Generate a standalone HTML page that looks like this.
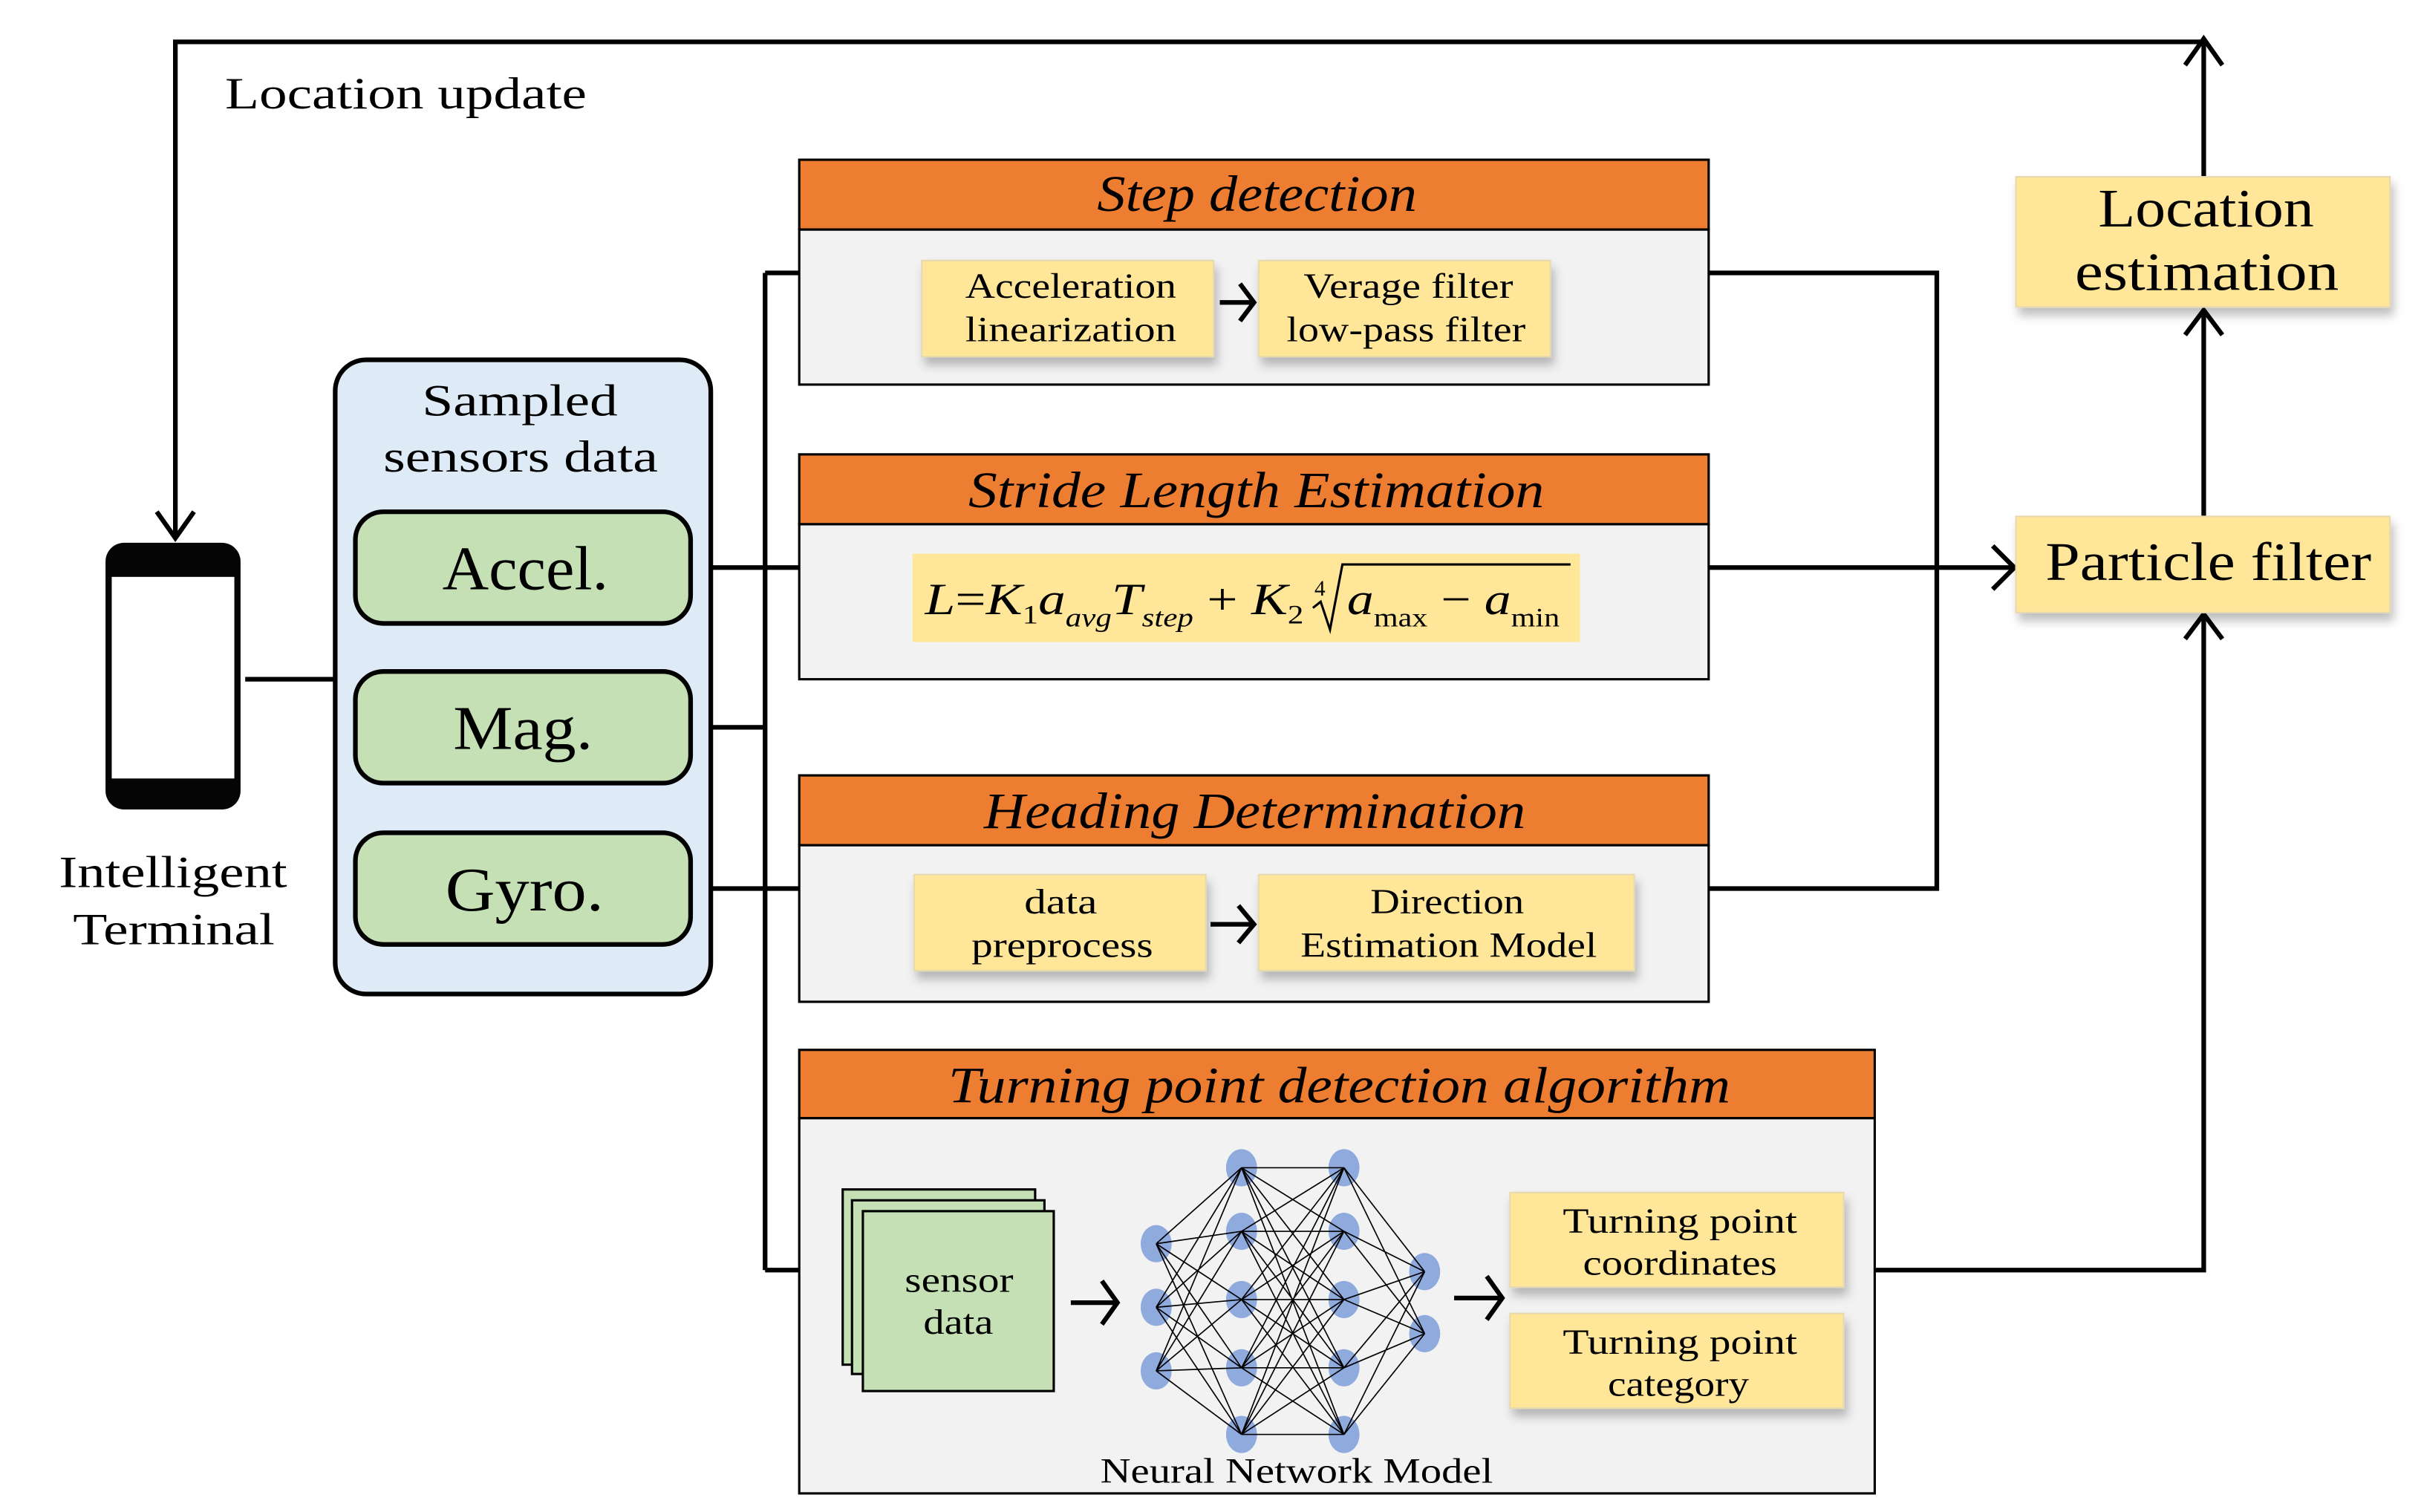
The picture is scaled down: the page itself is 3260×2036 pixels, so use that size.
<!DOCTYPE html>
<html><head><meta charset="utf-8"><style>
html,body{margin:0;padding:0;background:#fff;}
svg{display:block;}
text{font-family:"Liberation Serif",serif;fill:#000;}
</style></head><body>
<svg width="3260" height="2036" viewBox="0 0 1560 975" preserveAspectRatio="none" xmlns="http://www.w3.org/2000/svg">
<defs>
<filter id="sh" x="-10%" y="-10%" width="125%" height="140%"><feDropShadow dx="2" dy="5" stdDeviation="3" flood-color="#000" flood-opacity="0.25"/></filter>
</defs>
<g fill="none" stroke="#000" stroke-width="3">
<path d="M113 345 V27 H1420 V114"/>
<path d="M101 330 L113 347 L125 330"/>
<path d="M1408 42 L1420 25 L1432 42"/>
<path d="M158 438 H215"/>
<path d="M458 366 H515 M458 469 H493 M458 573 H515 M493 176 V819 M493 176 H515 M493 819 H515"/>
<path d="M1101 176 H1248 V573 H1101"/>
<path d="M1101 366 H1296"/>
<path d="M1284 352 L1298 366 L1284 380"/>
<path d="M1208 819 H1420 V397"/>
<path d="M1408 412 L1420 396 L1432 412"/>
<path d="M1420 333 V200"/>
<path d="M1408 216 L1420 200 L1432 216"/>
</g>
<!-- phone -->
<rect x="68" y="350" width="87" height="172" rx="12" fill="#050505"/>
<rect x="72" y="372" width="79" height="130" fill="#fff"/>
<text x="38" y="572" font-size="29" textLength="147" lengthAdjust="spacingAndGlyphs">Intelligent</text>
<text x="47" y="609" font-size="29" textLength="130" lengthAdjust="spacingAndGlyphs">Terminal</text>
<text x="145" y="70" font-size="29" textLength="233" lengthAdjust="spacingAndGlyphs">Location update</text>
<!-- sensors -->
<rect x="216" y="232" width="242" height="409" rx="20" fill="#deebf7" stroke="#000" stroke-width="3"/>
<text x="272" y="268" font-size="29" textLength="126" lengthAdjust="spacingAndGlyphs">Sampled</text>
<text x="247" y="304" font-size="29" textLength="177" lengthAdjust="spacingAndGlyphs">sensors data</text>
<g fill="#c5e0b4" stroke="#000" stroke-width="3">
<rect x="229" y="330" width="216" height="72" rx="18"/>
<rect x="229" y="433" width="216" height="72" rx="18"/>
<rect x="229" y="537" width="216" height="72" rx="18"/>
</g>
<text x="285" y="380" font-size="40" textLength="107" lengthAdjust="spacingAndGlyphs">Accel.</text>
<text x="292" y="483" font-size="40" textLength="90" lengthAdjust="spacingAndGlyphs">Mag.</text>
<text x="287" y="587" font-size="40" textLength="102" lengthAdjust="spacingAndGlyphs">Gyro.</text>
<!-- panels -->
<g stroke="#000" stroke-width="1.5">
<rect x="515" y="148" width="586" height="100" fill="#f2f2f2"/>
<rect x="515" y="103" width="586" height="45" fill="#ed7d31"/>
<rect x="515" y="338" width="586" height="100" fill="#f2f2f2"/>
<rect x="515" y="293" width="586" height="45" fill="#ed7d31"/>
<rect x="515" y="545" width="586" height="101" fill="#f2f2f2"/>
<rect x="515" y="500" width="586" height="45" fill="#ed7d31"/>
<rect x="515" y="721" width="693" height="242" fill="#f2f2f2"/>
<rect x="515" y="677" width="693" height="44" fill="#ed7d31"/>
</g>
<g font-style="italic" font-size="33" lengthAdjust="spacingAndGlyphs">
<text x="707" y="136" textLength="206" lengthAdjust="spacingAndGlyphs">Step detection</text>
<text x="624" y="327" textLength="371" lengthAdjust="spacingAndGlyphs">Stride Length Estimation</text>
<text x="634" y="534" textLength="349" lengthAdjust="spacingAndGlyphs">Heading Determination</text>
<text x="611" y="711" textLength="504" lengthAdjust="spacingAndGlyphs">Turning point detection algorithm</text>
</g>
<!-- yellow boxes -->
<g fill="#ffe699" stroke="#e6d9b0" stroke-width="1" filter="url(#sh)">
<rect x="594" y="168" width="188" height="62"/>
<rect x="811" y="168" width="188" height="62"/>
<rect x="589" y="564" width="188" height="62"/>
<rect x="811" y="564" width="242" height="62"/>
<rect x="973" y="769" width="215" height="61"/>
<rect x="973" y="847" width="215" height="61"/>
<rect x="1299" y="114" width="241" height="84"/>
<rect x="1299" y="333" width="241" height="62"/>
</g>
<rect x="588" y="357" width="430" height="57" fill="#ffe699"/>
<!-- sensor data stack -->
<g fill="#c5e0b4" stroke="#000" stroke-width="1.5">
<rect x="543" y="767" width="124" height="113"/>
<rect x="549" y="774" width="124" height="112"/>
<rect x="556" y="781" width="123" height="116"/>
</g>
<g font-size="23">
<text x="622" y="192" textLength="136" lengthAdjust="spacingAndGlyphs">Acceleration</text>
<text x="622" y="220" textLength="136" lengthAdjust="spacingAndGlyphs">linearization</text>
<text x="840" y="192" textLength="135" lengthAdjust="spacingAndGlyphs">Verage filter</text>
<text x="829" y="220" textLength="154" lengthAdjust="spacingAndGlyphs">low-pass filter</text>
<text x="660" y="589" textLength="47" lengthAdjust="spacingAndGlyphs">data</text>
<text x="626" y="617" textLength="117" lengthAdjust="spacingAndGlyphs">preprocess</text>
<text x="883" y="589" textLength="99" lengthAdjust="spacingAndGlyphs">Direction</text>
<text x="838" y="617" textLength="191" lengthAdjust="spacingAndGlyphs">Estimation Model</text>
<text x="1007" y="795" textLength="151" lengthAdjust="spacingAndGlyphs">Turning point</text>
<text x="1020" y="822" textLength="125" lengthAdjust="spacingAndGlyphs">coordinates</text>
<text x="1007" y="873" textLength="151" lengthAdjust="spacingAndGlyphs">Turning point</text>
<text x="1036" y="900" textLength="91" lengthAdjust="spacingAndGlyphs">category</text>
<text x="583" y="833" textLength="70" lengthAdjust="spacingAndGlyphs">sensor</text>
<text x="595" y="860" textLength="45" lengthAdjust="spacingAndGlyphs">data</text>
<text x="709" y="956" textLength="253" lengthAdjust="spacingAndGlyphs">Neural Network Model</text>
</g>
<text x="1352" y="146" font-size="35" textLength="139" lengthAdjust="spacingAndGlyphs">Location</text>
<text x="1337" y="187" font-size="35" textLength="170" lengthAdjust="spacingAndGlyphs">estimation</text>
<text x="1318" y="374" font-size="35" textLength="210" lengthAdjust="spacingAndGlyphs">Particle filter</text>
<!-- formula -->
<text x="596" y="396" font-size="29" textLength="244" lengthAdjust="spacingAndGlyphs"><tspan font-style="italic">L</tspan>=<tspan font-style="italic">K</tspan><tspan font-size="17" dy="6">1</tspan><tspan font-style="italic" dy="-6">a</tspan><tspan font-style="italic" font-size="17" dy="8">avg</tspan><tspan font-style="italic" dy="-8">T</tspan><tspan font-style="italic" font-size="17" dy="8">step</tspan><tspan dy="-8"> + </tspan><tspan font-style="italic">K</tspan><tspan font-size="17" dy="6">2</tspan></text>
<text x="847" y="384" font-size="14">4</text>
<path d="M846 392 L851 388 L857 406 L865 364 H1012" fill="none" stroke="#000" stroke-width="1.5"/>
<text x="868" y="396" font-size="29" textLength="137" lengthAdjust="spacingAndGlyphs"><tspan font-style="italic">a</tspan><tspan font-size="17" dy="8">max</tspan><tspan dy="-8"> − </tspan><tspan font-style="italic">a</tspan><tspan font-size="17" dy="8">min</tspan></text>
<!-- small arrows -->
<g fill="none" stroke="#000" stroke-width="3">
<path d="M786 195 H806 M799 183 L808 195 L799 207"/>
<path d="M780 596 H806 M798 584 L808 596 L798 608"/>
<path d="M690 840 H718 M710 826 L720 840 L710 854"/>
<path d="M937 837 H966 M958 823 L968 837 L958 851"/>
</g>
<!-- NN -->
<g fill="#8faadc">
<ellipse cx="745" cy="802" rx="10" ry="12"/><ellipse cx="745" cy="843" rx="10" ry="12"/><ellipse cx="745" cy="884" rx="10" ry="12"/>
<ellipse cx="800" cy="753" rx="10" ry="12"/><ellipse cx="800" cy="794" rx="10" ry="12"/><ellipse cx="800" cy="838" rx="10" ry="12"/><ellipse cx="800" cy="882" rx="10" ry="12"/><ellipse cx="800" cy="925" rx="10" ry="12"/>
<ellipse cx="866" cy="753" rx="10" ry="12"/><ellipse cx="866" cy="794" rx="10" ry="12"/><ellipse cx="866" cy="838" rx="10" ry="12"/><ellipse cx="866" cy="882" rx="10" ry="12"/><ellipse cx="866" cy="925" rx="10" ry="12"/>
<ellipse cx="918" cy="820" rx="10" ry="12"/><ellipse cx="918" cy="860" rx="10" ry="12"/>
</g>
<path fill="none" stroke="#000" stroke-width="0.8" d="
M745 802 L800 753 M745 802 L800 794 M745 802 L800 838 M745 802 L800 882 M745 802 L800 925
M745 843 L800 753 M745 843 L800 794 M745 843 L800 838 M745 843 L800 882 M745 843 L800 925
M745 884 L800 753 M745 884 L800 794 M745 884 L800 838 M745 884 L800 882 M745 884 L800 925
M800 753 L866 753 M800 753 L866 794 M800 753 L866 838 M800 753 L866 882 M800 753 L866 925
M800 794 L866 753 M800 794 L866 794 M800 794 L866 838 M800 794 L866 882 M800 794 L866 925
M800 838 L866 753 M800 838 L866 794 M800 838 L866 838 M800 838 L866 882 M800 838 L866 925
M800 882 L866 753 M800 882 L866 794 M800 882 L866 838 M800 882 L866 882 M800 882 L866 925
M800 925 L866 753 M800 925 L866 794 M800 925 L866 838 M800 925 L866 882 M800 925 L866 925
M866 753 L918 820 M866 753 L918 860 M866 794 L918 820 M866 794 L918 860 M866 838 L918 820 M866 838 L918 860
M866 882 L918 820 M866 882 L918 860 M866 925 L918 820 M866 925 L918 860"/>
</svg>
</body></html>
